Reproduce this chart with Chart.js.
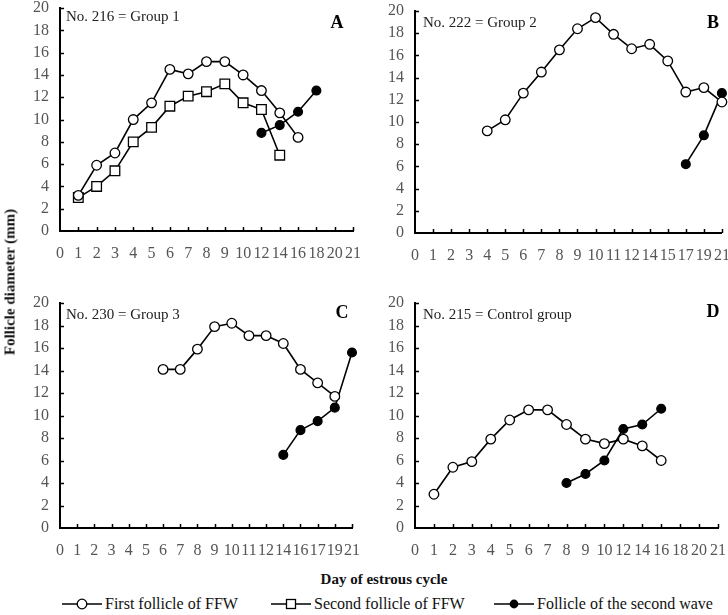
<!DOCTYPE html>
<html>
<head>
<meta charset="utf-8">
<script src="https://cdn.jsdelivr.net/npm/chart.js@4.4.1/dist/chart.umd.min.js"></script>
<style>
  body { margin: 0; background: #fff; width: 728px; height: 615px; position: relative; overflow: hidden;
         font-family: "Liberation Serif", "Times New Roman", serif; color: #111; }
  canvas { position: absolute; }
  #ytitle { position: absolute; left: 10px; top: 282px; transform: translate(-50%, -50%) rotate(-90deg);
            font-weight: bold; font-size: 15px; white-space: nowrap; }
  #xtitle { position: absolute; left: 384px; top: 579px; transform: translate(-50%, -50%);
            font-weight: bold; font-size: 15px; white-space: nowrap; }
  .leg { position: absolute; top: 595px; font-size: 16px; display: flex; align-items: center; white-space: nowrap; }
  .leg svg { margin-right: 3px; }
</style>
</head>
<body>
<canvas id="cA" width="364" height="270" style="left:0;top:0"></canvas>
<canvas id="cB" width="364" height="270" style="left:364px;top:0"></canvas>
<canvas id="cC" width="364" height="270" style="left:0;top:290px"></canvas>
<canvas id="cD" width="364" height="270" style="left:364px;top:290px"></canvas>

<div id="ytitle">Follicle diameter (mm)</div>
<div id="xtitle">Day of estrous cycle</div>

<div class="leg" style="left:62px">
  <svg width="40" height="14"><line x1="0" y1="7" x2="40" y2="7" stroke="#000" stroke-width="1.5"/><circle cx="20" cy="7" r="4.8" fill="#fff" stroke="#000" stroke-width="1.3"/></svg>First follicle of FFW
</div>
<div class="leg" style="left:271px">
  <svg width="40" height="14"><line x1="0" y1="7" x2="40" y2="7" stroke="#000" stroke-width="1.5"/><rect x="15.5" y="2.5" width="9" height="9" fill="#fff" stroke="#000" stroke-width="1.3"/></svg>Second follicle of FFW
</div>
<div class="leg" style="left:494px">
  <svg width="40" height="14"><line x1="0" y1="7" x2="40" y2="7" stroke="#000" stroke-width="1.5"/><circle cx="20" cy="7" r="4.4" fill="#000"/></svg>Follicle of the second wave
</div>

<script>
// x categories (days) for each panel
const labelsA = ['0','1','2','3','4','5','6','7','8','9','10','12','14','16','18','20','21'];
const labelsB = ['0','1','2','3','4','5','6','7','8','9','10','11','12','14','15','17','19','21'];
const labelsC = ['0','1','2','3','4','5','6','7','8','9','10','11','12','14','16','17','19','21'];
const labelsD = ['0','1','2','3','4','5','6','7','8','9','10','12','14','16','18','20','21'];

// A - No. 216 = Group 1
const firstDaysA = [1,2,3,4,5,6,7,8,9,10,12,14,16];
const firstA     = [3.2,5.9,7.0,10.0,11.5,14.5,14.1,15.2,15.2,14.0,12.6,10.6,8.4];
const secondDaysA = [1,2,3,4,5,6,7,8,9,10,12,14];
const secondA     = [3.0,4.0,5.4,8.0,9.3,11.2,12.1,12.5,13.2,11.5,10.9,6.8];
const waveDaysA = [12,14,16,18];
const waveA     = [8.8,9.5,10.7,12.6];

// B - No. 222 = Group 2
const firstDaysB = [4,5,6,7,8,9,10,11,12,14,15,17,19,21];
const firstB     = [9.2,10.2,12.6,14.5,16.5,18.4,19.4,17.9,16.6,17.0,15.5,12.7,13.1,11.8];
const waveDaysB = [17,19,21];
const waveB     = [6.2,8.8,12.6];

// C - No. 230 = Group 3
const firstDaysC = [6,7,8,9,10,11,12,14,16,17,19];
const firstC     = [14.1,14.1,15.9,17.9,18.2,17.1,17.1,16.4,14.1,12.9,11.7];
const waveDaysC = [14,16,17,19,21];
const waveC     = [6.5,8.7,9.5,10.7,15.6];

// D - No. 215 = Control group
const firstDaysD = [1,2,3,4,5,6,7,8,9,10,12,14,16];
const firstD     = [3.0,5.4,5.9,7.9,9.6,10.5,10.5,9.2,7.9,7.5,7.9,7.3,6.0];
const waveDaysD = [8,9,10,12,14,16];
const waveD     = [4.0,4.8,6.0,8.8,9.2,10.6];

const yTicks = [0,2,4,6,8,10,12,14,16,18,20];

function pts(days, vals) {
  return days.map((d, i) => ({ x: String(d), y: vals[i] }));
}

const openCircle = { pointStyle: 'circle', pointRadius: 4.8, pointBackgroundColor: '#fff' };
const openSquare = { pointStyle: 'rect', pointRadius: 6.8, pointBackgroundColor: '#fff' };
const filledCircle = { pointStyle: 'circle', pointRadius: 4.4, pointBackgroundColor: '#000' };

// inward tick marks + panel captions
const panelDeco = {
  id: 'panelDeco',
  afterDraw(chart, args, o) {
    const c = chart.ctx, x = chart.scales.x, y = chart.scales.y;
    c.save();
    c.strokeStyle = '#000';
    c.lineWidth = 1.5;
    c.beginPath();
    x.ticks.forEach((t, i) => {
      if (i === 0) return;
      const px = Math.round(x.getPixelForTick(i)) + 0.5;
      c.moveTo(px, x.top); c.lineTo(px, x.top - 4);
    });
    y.ticks.forEach((t, i) => {
      if (i === 0) return;
      const py = Math.round(y.getPixelForTick(i)) + 0.5;
      c.moveTo(y.right, py); c.lineTo(y.right + 4, py);
    });
    c.stroke();
    c.fillStyle = '#222';
    c.font = '15px "Liberation Serif"';
    c.textBaseline = 'middle';
    c.textAlign = 'left';
    c.fillText(o.name, o.nx, o.ny);
    c.fillStyle = '#000';
    c.font = 'bold 18px "Liberation Serif"';
    c.textAlign = 'center';
    c.fillText(o.letter, o.lx, o.ly);
    c.restore();
  }
};

function makeChart(id, labels, sets, pad, yw, xh, deco) {
  const datasets = sets.map(s => Object.assign({
    data: s.data,
    borderColor: '#000',
    borderWidth: 1.6,
    pointBorderColor: '#000',
    pointBorderWidth: 1.3,
    tension: 0,
    fill: false
  }, s.style));
  return new Chart(document.getElementById(id), {
    type: 'line',
    data: { labels: labels, datasets: datasets },
    options: {
      responsive: false,
      animation: false,
      devicePixelRatio: 1,
      layout: { padding: pad },
      plugins: { legend: { display: false }, tooltip: { enabled: false }, panelDeco: deco },
      scales: {
        x: {
          type: 'category',
          offset: false,
          grid: { display: false, drawTicks: false },
          border: { display: true, color: '#000', width: 2 },
          ticks: { autoSkip: false, maxRotation: 0, minRotation: 0, padding: 13, color: '#555',
                   font: { family: 'Liberation Serif', size: 16 } },
          afterFit: s => { s.height = xh; s.paddingLeft = 0; s.paddingRight = 0; }
        },
        y: {
          min: 0, max: 20,
          afterBuildTicks: s => { s.ticks = yTicks.map(v => ({ value: v })); },
          grid: { display: false, drawTicks: false },
          border: { display: true, color: '#000', width: 2 },
          ticks: { padding: 11, color: '#555', font: { family: 'Liberation Serif', size: 16 } },
          afterFit: s => { s.width = yw; s.paddingTop = 0; s.paddingBottom = 0; }
        }
      }
    },
    plugins: [panelDeco]
  });
}

makeChart('cA', labelsA, [
  { data: pts(firstDaysA, firstA), style: openCircle },
  { data: pts(secondDaysA, secondA), style: openSquare },
  { data: pts(waveDaysA, waveA), style: filledCircle }
], { left: 0, top: 5, right: 11, bottom: 0 }, 60, 39,
  { name: 'No. 216 = Group 1', nx: 66, ny: 17, letter: 'A', lx: 337, ly: 23 });

makeChart('cB', labelsB, [
  { data: pts(firstDaysB, firstB), style: openCircle },
  { data: pts(waveDaysB, waveB), style: filledCircle }
], { left: 0, top: 11, right: 5, bottom: 0 }, 51, 37,
  { name: 'No. 222 = Group 2', nx: 59, ny: 23, letter: 'B', lx: 349, ly: 23 });

makeChart('cC', labelsC, [
  { data: pts(firstDaysC, firstC), style: openCircle },
  { data: pts(waveDaysC, waveC), style: filledCircle }
], { left: 0, top: 13, right: 12, bottom: 0 }, 60, 32,
  { name: 'No. 230 = Group 3', nx: 66, ny: 25, letter: 'C', lx: 342, ly: 23 });

makeChart('cD', labelsD, [
  { data: pts(firstDaysD, firstD), style: openCircle },
  { data: pts(waveDaysD, waveD), style: filledCircle }
], { left: 0, top: 13, right: 10, bottom: 0 }, 51, 32,
  { name: 'No. 215 = Control group', nx: 59, ny: 25, letter: 'D', lx: 349, ly: 22 });
</script>
</body>
</html>
